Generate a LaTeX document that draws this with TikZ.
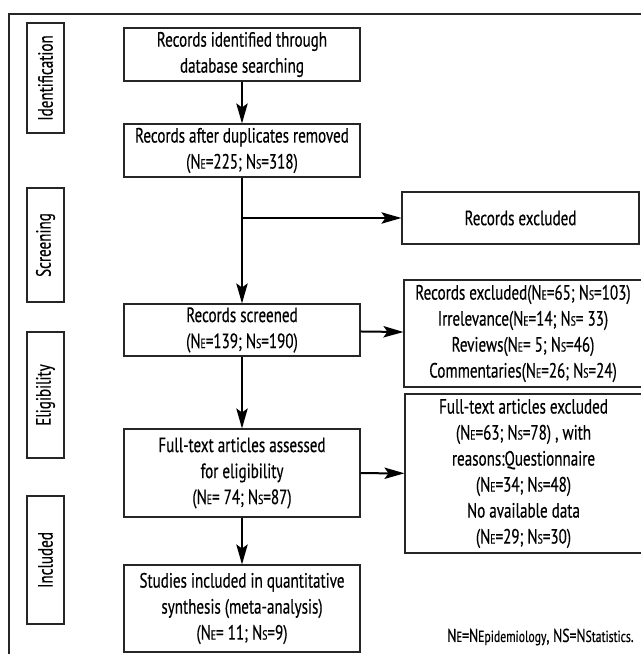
\documentclass[tikz,border=0pt]{standalone}
\usepackage{fontspec}
\setmainfont{PT Sans}[FakeStretch=0.73, FakeBold=0.4]
\usetikzlibrary{arrows.meta, positioning}
\newcommand{\smallidx}[2][10pt]{{\fontsize{#1}{#1}\selectfont #2}}

\begin{document}
\begin{tikzpicture}[x=0.75pt, y=-0.75pt,
            box/.style={draw=black!85, line width=0.8pt, inner sep=0pt,
                    minimum width=177pt, align=center,
                    font=\fontsize{15.5pt}{19.5pt}\selectfont},
            lab/.style={draw=black!85, line width=0.8pt, inner sep=0pt,
                    minimum height=27.75pt, rotate=90,
                    font=\fontsize{15.5pt}{19.5pt}\selectfont},
            arr/.style={-{Stealth[length=15pt, width=8.5pt, inset=3pt]}, line width=1.5pt}]
        \useasboundingbox (0,0) rectangle (640,654);
        \draw[line width=1.6pt, black!85] (9,660) -- (9,14) -- (650,14);
        % phase labels
        \node[lab, minimum width=82.5pt] (labId) at (45.5,78) {Identification};
        \node[lab, minimum width=85.5pt] (labScr) at (45.5,245) {Screening};
        \node[lab, minimum width=94.5pt] (labElig) at (45.5,395) {Eligibility};
        \node[lab, minimum width=96pt] (labIncl) at (45.5,560) {Included};
        % main column
        \node[box, minimum height=39.75pt] (ident) at (242,54.5) {Records identified through\\database searching};
        \node[box, minimum height=39.75pt] (dedup) at (242,150.5) {Records after duplicates removed\\(N\smallidx{E}=225; N\smallidx{S}=318)};
        \node[box, minimum height=39pt] (screened) at (242,330) {Records screened\\(N\smallidx{E}=139; N\smallidx{S}=190)};
        \node[box, minimum height=66pt] (fulltext) at (242,473) {Full-text articles assessed\\for eligibility\\(N\smallidx{E}= 74; N\smallidx{S}=87)};
        \node[box, minimum height=65.25pt] (studies) at (242,608.5) {Studies included in quantitative\\synthesis (meta-analysis)\\(N\smallidx{E}= 11; N\smallidx{S}=9)};
        % exclusions
        \node[box, minimum width=177.75pt, minimum height=39pt] (exclA) at (520.5,218) {Records excluded};
        \node[box, minimum width=178.5pt, minimum height=80.25pt] (exclB) at (523,333.5) {Records excluded(N\smallidx{E}=65; N\smallidx{S}=103)\\Irrelevance(N\smallidx{E}=14; N\smallidx{S}= 33)\\Reviews(N\smallidx{E}= 5; N\smallidx{S}=46)\\Commentaries(N\smallidx{E}=26; N\smallidx{S}=24)};
        \node[box, minimum width=177.75pt, minimum height=119.25pt] (exclC) at (523.5,473.5) {Full-text articles excluded\\(N\smallidx{E}=63; N\smallidx{S}=78) , with\\reasons:Questionnaire\\(N\smallidx{E}=34; N\smallidx{S}=48)\\No available data\\(N\smallidx{E}=29; N\smallidx{S}=30)};
        \node[anchor=east, inner sep=0pt, font=\fontsize{14pt}{16pt}\selectfont] (note) at (634,637) {N\smallidx[11pt]{E}=N\smallidx[12pt]{Epidemiology}, NS=N\smallidx[12pt]{Statistics}.};
        % connectors
        \coordinate (split) at (dedup.south |- exclA.west);
        \draw[arr] (ident) -- (dedup);
        \draw[arr] (dedup) -- (screened);
        \draw[arr] (split) -- (exclA);
        \draw[arr] (screened) -- (exclB);
        \draw[arr] (screened) -- (fulltext);
        \draw[arr] (fulltext) -- (exclC);
        \draw[arr] (fulltext) -- (studies);
    \end{tikzpicture}
\end{document}
